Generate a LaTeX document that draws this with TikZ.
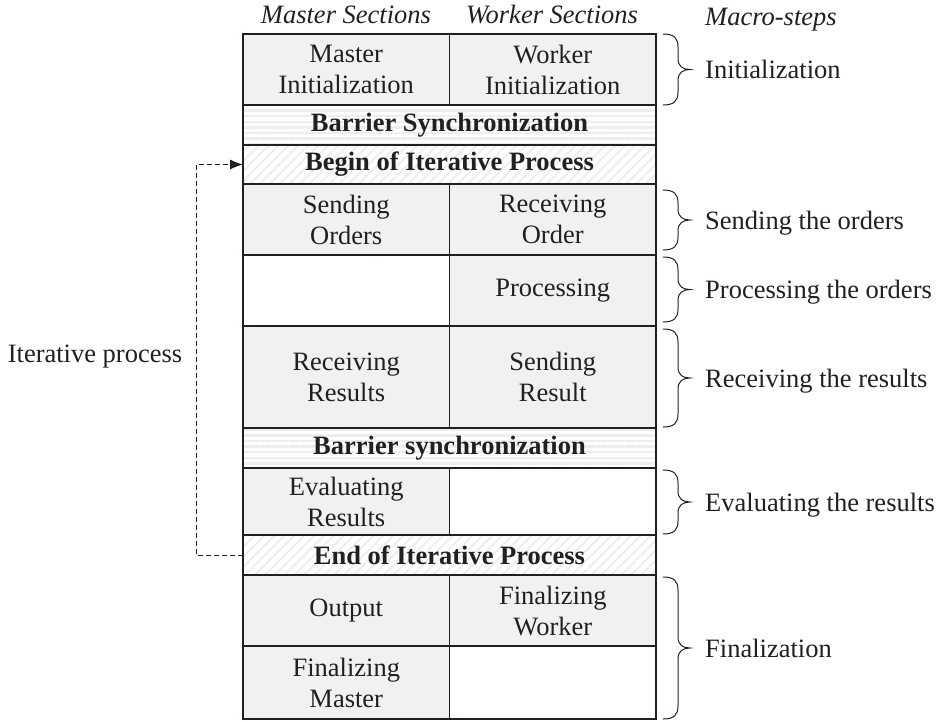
\documentclass[tikz,border=0pt]{standalone}
\usepackage{fontspec}
\setmainfont{Liberation Serif}
\usetikzlibrary{patterns.meta,arrows.meta}
\definecolor{cellgray}{HTML}{F0F2F2}
\definecolor{ink}{HTML}{231F20}
\definecolor{stripe}{HTML}{ECEEEE}
\definecolor{hatch}{HTML}{EDEFEF}
\newcommand{\macrobrace}[3]{%
  \pgfmathsetmacro{\ym}{(#2+#3)/2}%
  \draw[bracestyle] (#1,#2) .. controls (#1+11,#2) and (#1+15,#2+4) .. (#1+15,#2+13)
    -- (#1+15,\ym-11) .. controls (#1+15,\ym-3) and (#1+20,\ym) .. (#1+27,\ym)
    .. controls (#1+20,\ym) and (#1+15,\ym+3) .. (#1+15,\ym+11)
    -- (#1+15,#3-13) .. controls (#1+15,#3-4) and (#1+11,#3) .. (#1,#3);}
\tikzset{
  txt/.style={text=ink, font=\fontsize{26.5}{31}\selectfont, inner sep=0pt},
  cell/.style={txt, draw=ink, line width=1.7pt, anchor=north west, align=center,
    minimum width=206.5pt, outer sep=0pt},
  gcell/.style={cell, fill=cellgray},
  wcell/.style={cell, fill=white},
  fullrow/.style={cell, minimum width=413pt, font=\bfseries\fontsize{26.5}{31}\selectfont},
  barrow/.style={fullrow, pattern={Lines[angle=0,distance=5.6pt,line width=2.4pt]}, pattern color=stripe},
  iterrow/.style={fullrow, pattern={Lines[angle=45,distance=7pt,line width=2pt]}, pattern color=hatch},
  head/.style={txt, font=\itshape\fontsize{26.5}{31}\selectfont, anchor=base},
  macro/.style={txt, anchor=base west},
  bracestyle/.style={draw=ink, line width=1pt},
  loopline/.style={draw=ink, line width=1pt, dash pattern=on 5pt off 3pt, -{Latex[length=13pt,width=10pt]}}
}
\begin{document}
\begin{tikzpicture}[x=1pt,y=-1pt]
\useasboundingbox (0,0) rectangle (937,721);
% headings
\node[head] (hm) at (346,23) {Master Sections};
\node[head] (hw) at (552,23) {Worker Sections};
\node[head, anchor=base west] (hs) at (705,25) {Macro-steps};
% rows
\node[gcell, minimum height=71pt] (mi) at (243,34) {Master\\Initialization};
\node[gcell, minimum height=71pt] (wi) at (449.5,34) {Worker\\Initialization};
\node[barrow, minimum height=40pt] (b1) at (243,105) {Barrier Synchronization};
\node[iterrow, minimum height=39pt] (bip) at (243,145) {Begin of Iterative Process};
\node[gcell, minimum height=71pt] (so) at (243,184) {Sending\\Orders};
\node[gcell, minimum height=71pt] (ro) at (449.5,184) {Receiving\\Order};
\node[wcell, minimum height=71pt] (pe) at (243,255) {};
\node[gcell, minimum height=71pt] (pr) at (449.5,255) {Processing};
\node[gcell, minimum height=102pt] (rr) at (243,326) {Receiving\\Results};
\node[gcell, minimum height=102pt] (sr) at (449.5,326) {Sending\\Result};
\node[barrow, minimum height=40pt] (b2) at (243,428) {Barrier synchronization};
\node[gcell, minimum height=67pt] (er) at (243,468) {Evaluating\\Results};
\node[wcell, minimum height=67pt] (ee) at (449.5,468) {};
\node[iterrow, minimum height=40pt] (eip) at (243,535) {End of Iterative Process};
\node[gcell, minimum height=71pt] (ou) at (243,575) {Output};
\node[gcell, minimum height=71pt] (fw) at (449.5,575) {Finalizing\\Worker};
\node[gcell, minimum height=73pt] (fm) at (243,646) {Finalizing\\Master};
\node[wcell, minimum height=73pt] (fe) at (449.5,646) {};
% loop
\draw[loopline] (eip.west) -- ++(-47,0) |- (bip.west);
\node[txt] (itl) at (95,357) {Iterative process};
% braces
\macrobrace{663}{34}{105}
\macrobrace{663}{190}{250}
\macrobrace{663}{257}{322}
\macrobrace{663}{329}{427}
\macrobrace{663}{470}{534}
\macrobrace{663}{577}{719}
\node[macro] (m1) at (705,78.5) {Initialization};
\node[macro] (m2) at (705,229) {Sending the orders};
\node[macro] (m3) at (705,298.5) {Processing the orders};
\node[macro] (m4) at (705,387) {Receiving the results};
\node[macro] (m5) at (705,511) {Evaluating the results};
\node[macro] (m6) at (705,657) {Finalization};
\end{tikzpicture}
\end{document}
